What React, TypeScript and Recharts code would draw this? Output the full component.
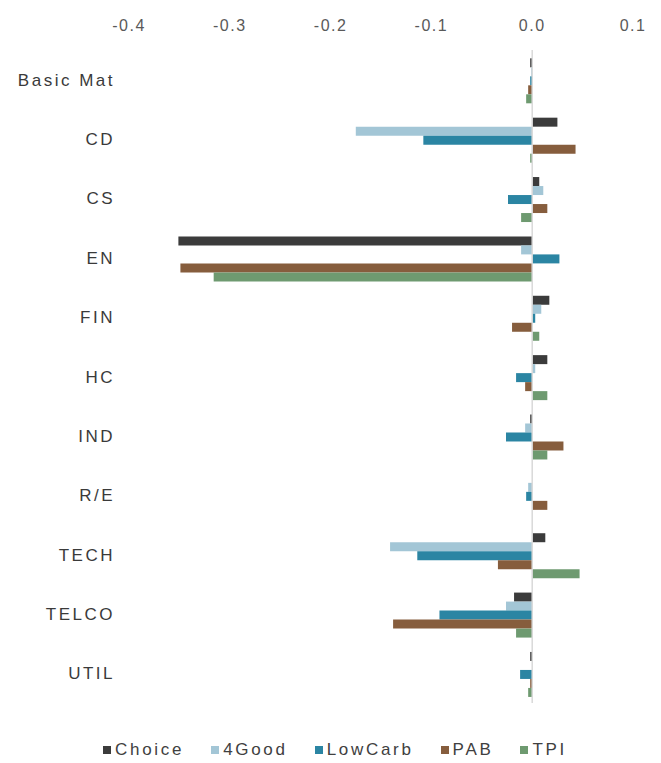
import React from "react";
import { BarChart, Bar, XAxis, YAxis, Legend, ReferenceLine } from "recharts";

const categories = ["Basic Mat", "CD", "CS", "EN", "FIN", "HC", "IND", "R/E", "TECH", "TELCO", "UTIL"];
const choice = [-0.002, 0.025, 0.007, -0.351, 0.017, 0.015, -0.002, 0.0, 0.013, -0.018, -0.002];
const fourGood = [-0.001, -0.175, 0.011, -0.011, 0.009, 0.003, -0.007, -0.004, -0.141, -0.026, 0.0];
const lowCarb = [-0.002, -0.108, -0.024, 0.027, 0.003, -0.016, -0.026, -0.006, -0.114, -0.092, -0.012];
const pab = [-0.004, 0.043, 0.015, -0.349, -0.02, -0.007, 0.031, 0.015, -0.034, -0.138, -0.002];
const tpi = [-0.006, -0.002, -0.011, -0.316, 0.007, 0.015, 0.015, 0.0, 0.047, -0.016, -0.004];
const xTicks = [-0.4, -0.3, -0.2, -0.1, 0, 0.1];

const series = [
  { key: "Choice", color: "#3b3b3b", values: choice },
  { key: "4Good", color: "#a3c6d6", values: fourGood },
  { key: "LowCarb", color: "#2b85a3", values: lowCarb },
  { key: "PAB", color: "#865d3d", values: pab },
  { key: "TPI", color: "#6e9a70", values: tpi },
];

const data = categories.map((c, i) => {
  const row: Record<string, any> = { cat: c };
  series.forEach((s) => (row[s.key] = s.values[i]));
  return row;
});

const font = "'Liberation Sans', Arial, sans-serif";

const LegendContent = () => (
  <div
    style={{
      display: "flex",
      justifyContent: "flex-start",
      paddingLeft: 95,
      paddingTop: 37,
      paddingBottom: 3,
      height: 20,
      fontFamily: font,
      fontSize: 17,
      lineHeight: "20px",
      color: "#404040",
      letterSpacing: 2.7,
    }}
  >
    {series.map((s) => (
      <div key={s.key} style={{ display: "flex", alignItems: "center", marginRight: 27 }}>
        <span style={{ display: "inline-block", width: 8, height: 8, background: s.color, marginRight: 4 }} />
        <span>{s.key}</span>
      </div>
    ))}
  </div>
);

export default function App() {
  return (
    <BarChart
      width={645}
      height={755}
      data={data}
      layout="vertical"
      margin={{ top: 0, right: 20, bottom: 0, left: 0 }}
      barCategoryGap="14%"
      barGap={0}
      style={{ fontFamily: font }}
    >
      <XAxis
        type="number"
        orientation="top"
        domain={[-0.4, 0.1]}
        ticks={xTicks}
        tickFormatter={(v: number) => v.toFixed(1)}
        axisLine={false}
        tickLine={false}
        tickSize={0}
        tickMargin={19}
        height={42}
        tick={{ fill: "#595959", fontSize: 16, fontFamily: font, letterSpacing: 1.5 }}
      />
      <YAxis
        type="category"
        dataKey="cat"
        width={121}
        axisLine={false}
        tickLine={false}
        tickSize={0}
        tickMargin={14}
        interval={0}
        tick={{ fill: "#3a3a3a", fontSize: 17, fontFamily: font, letterSpacing: 2.5 }}
      />
      {series.map((s) => (
        <Bar key={s.key} dataKey={s.key} fill={s.color} isAnimationActive={false} />
      ))}
      <ReferenceLine x={0} stroke="#d9d9d9" strokeWidth={1.5} />
      <Legend verticalAlign="bottom" content={<LegendContent />} />
    </BarChart>
  );
}
